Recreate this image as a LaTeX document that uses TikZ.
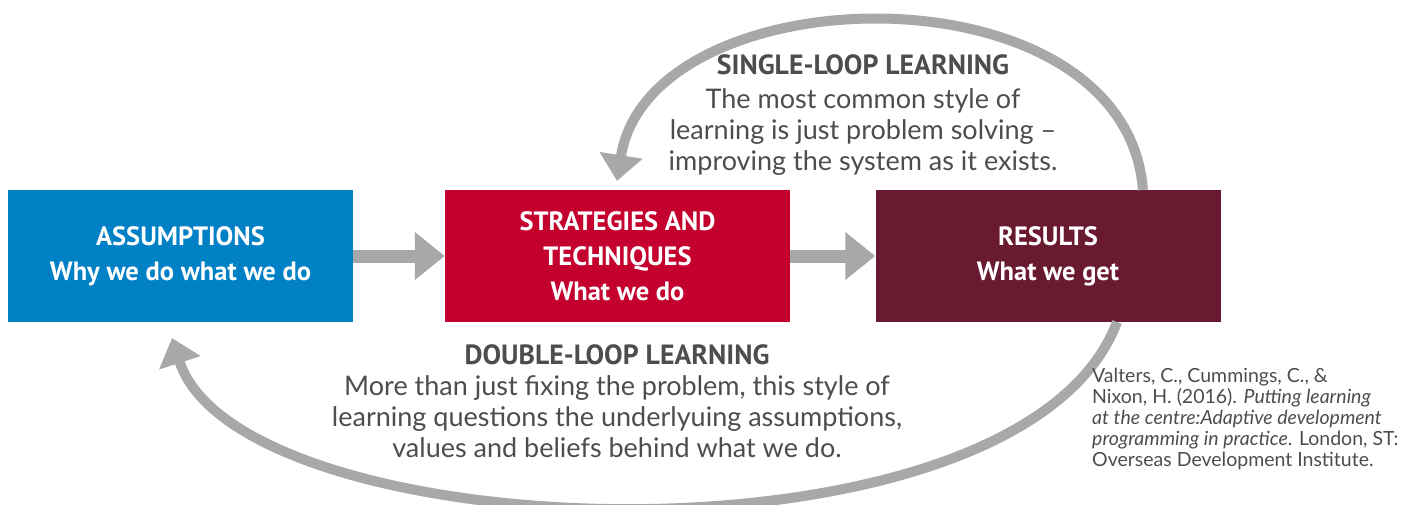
\documentclass[tikz,border=0pt]{standalone}
\usepackage{fontspec}
\setmainfont{Lato}
\newfontfamily\headfont{PT Sans}
\usetikzlibrary{arrows.meta}
\definecolor{cblue}{HTML}{0081C6}
\definecolor{cred}{HTML}{C4002F}
\definecolor{cmaroon}{HTML}{6A1A30}
\definecolor{cgray}{HTML}{A7A8AA}
\definecolor{ctext}{HTML}{4D4D4F}
\tikzset{
  box/.style={fill=#1, draw=none, minimum width=345pt, minimum height=132pt, inner sep=0pt,
    text=white, align=center, font=\headfont\bfseries\fontsize{26.5}{35}\selectfont},
  flow/.style={draw=cgray, line width=13pt, -{Triangle[length=30pt,width=46pt]}},
  loop/.style={draw=cgray, line width=10pt, -{Triangle[length=26pt,width=42pt]}},
  head/.style={text=ctext, font=\headfont\bfseries\fontsize{27.8}{31}\selectfont, inner sep=0pt, anchor=base},
  body/.style={text=ctext, font=\fontsize{27}{31}\selectfont, align=center, inner sep=0pt, anchor=base},
}
\begin{document}
\begin{tikzpicture}[x=1pt,y=-1pt]
\useasboundingbox (0,0) rectangle (1422,504);
\node[box=cblue] (a) at (180.5,256) {ASSUMPTIONS\\Why we do what we do};
\node[box=cred] (s) at (617.5,256) {STRATEGIES AND\\TECHNIQUES\\What we do};
\node[box=cmaroon] (r) at (1048,256) {RESULTS\\What we get};
\draw[flow] (a.east) -- (s.west);
\draw[flow] (s.east) -- (r.west);
\coordinate (t1) at (1143,190);
\coordinate (t2) at (617,181);
\draw[loop] (t1) .. controls (1125,-38) and (650,-28) .. (t2);
\coordinate (b1) at (1117,322);
\coordinate (b2) at (172,338);
\draw[loop] (b1) .. controls (1020,580) and (240,550) .. (b2);
\node[head] (sh) at (863,74) {SINGLE-LOOP LEARNING};
\node[body, anchor=north] (sb) at (863,88) {The most common style of\\learning is just problem solving --\\improving the system as it exists.};
\node[head] (dh) at (617,364) {DOUBLE-LOOP LEARNING};
\node[body, anchor=north] (db) at (617,375) {More than just fixing the problem, this style of\\learning questions the underlyuing assumptions,\\values and beliefs behind what we do.};
\node[text=ctext, font=\fontsize{19.5}{21}\selectfont, align=left, anchor=north west, inner sep=0pt] (cit) at (1092,368)
 {Valters, C., Cummings, C., \&\\Nixon, H. (2016). \textit{Putting learning}\\\textit{at the centre:Adaptive development}\\\textit{programming in practice}. London, ST:\\Overseas Development Institute.};
\end{tikzpicture}
\end{document}
